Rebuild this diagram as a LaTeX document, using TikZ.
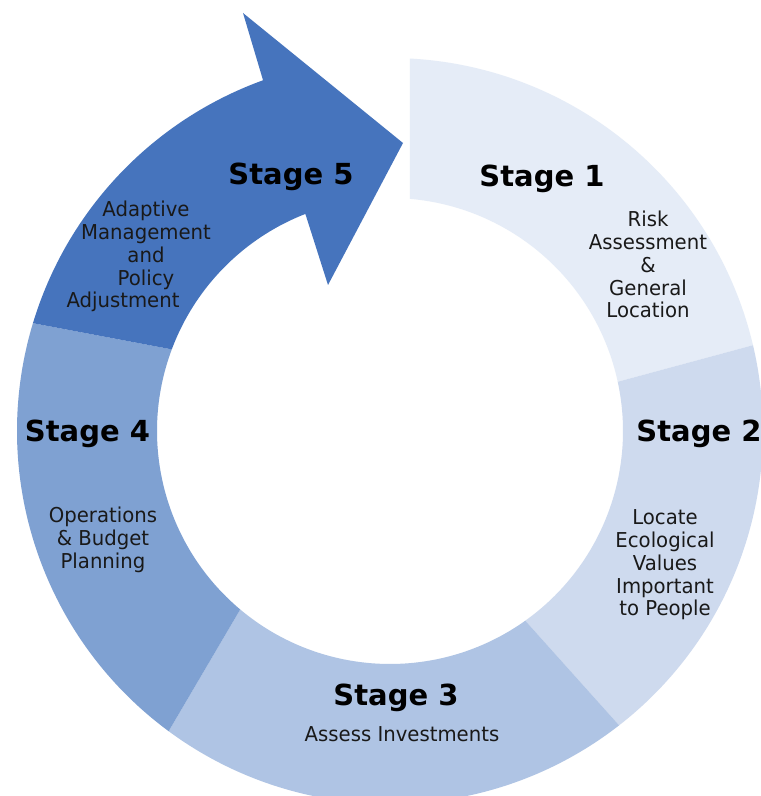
\documentclass[tikz,border=0pt]{standalone}
\usepackage{fontspec}
\setmainfont{DejaVu Sans}
\newfontfamily\descfont{DejaVu Sans}[FakeStretch=0.96]
\definecolor{segA}{RGB}{229,236,247}
\definecolor{segB}{RGB}{206,218,238}
\definecolor{segC}{RGB}{175,196,228}
\definecolor{segD}{RGB}{127,161,210}
\definecolor{segE}{RGB}{70,116,189}
\begin{document}
\begin{tikzpicture}[x=1pt,y=1pt,
  stagetitle/.style={font=\fontsize{29}{34}\selectfont\bfseries, inner sep=0pt, anchor=base, text=black},
  stagedesc/.style={font=\descfont\fontsize{20.5}{22.7}\selectfont, inner sep=0pt, anchor=base, text=black!90},
]
\useasboundingbox (0,0) rectangle (761,796);
\fill[white] (0,0) rectangle (761,796);
\begin{scope}[shift={(390,365)}]
  % Stage 1
  \fill[segA] (86.93:373pt) arc[start angle=86.93, end angle=13.3, radius=373pt]
     -- (12.2:233pt) arc[start angle=12.2, end angle=85.08, radius=233pt] -- cycle;
  % Stage 2
  \fill[segB] (13.3:373pt) arc[start angle=13.3, end angle=-52.1, radius=373pt]
     -- (-54.5:233pt) arc[start angle=-54.5, end angle=12.2, radius=233pt] -- cycle;
  % Stage 3
  \fill[segC] (-52.1:373pt) arc[start angle=-52.1, end angle=-126.4, radius=373pt]
     -- (-130:233pt) arc[start angle=-130, end angle=-54.5, radius=233pt] -- cycle;
  % Stage 4
  \fill[segD] (-126.4:373pt) arc[start angle=-126.4, end angle=-196.8, radius=373pt]
     -- (-200.5:233pt) arc[start angle=-200.5, end angle=-130, radius=233pt] -- cycle;
  % Stage 5 arrow
  \fill[segE] (163.2:373pt) arc[start angle=163.2, end angle=109.9, radius=373pt]
     -- (-147pt,418pt) -- (13pt,288pt) -- (-62pt,146pt)
     -- (111.3:233pt) arc[start angle=111.3, end angle=159.5, radius=233pt] -- cycle;
\end{scope}

\node[stagetitle] (t5) at (291,611) {Stage 5};
\node[stagedesc] (d5) at (146,579) {\begin{tabular}[t]{@{}c@{}}Adaptive\\Management\\and\\Policy\\Adjustment\hspace*{46pt}\end{tabular}};

\node[stagetitle] (t1) at (542,609) {Stage 1};
\node[stagedesc] (d1) at (648,569) {\begin{tabular}[t]{@{}c@{}}Risk\\Assessment\\\&\\General\\Location\end{tabular}};

\node[stagetitle] (t2) at (699,354) {Stage 2};
\node[stagedesc] (d2) at (665,271) {\begin{tabular}[t]{@{}c@{}}Locate\\Ecological\\Values\\Important\\to People\end{tabular}};

\node[stagetitle] (t3) at (396,90) {Stage 3};
\node[stagedesc] (d3) at (402,54) {Assess Investments};

\node[stagetitle] (t4) at (87.5,354) {Stage 4};
\node[stagedesc] (d4) at (103,273) {\begin{tabular}[t]{@{}c@{}}Operations\\\& Budget\\Planning\end{tabular}};
\end{tikzpicture}
\end{document}
